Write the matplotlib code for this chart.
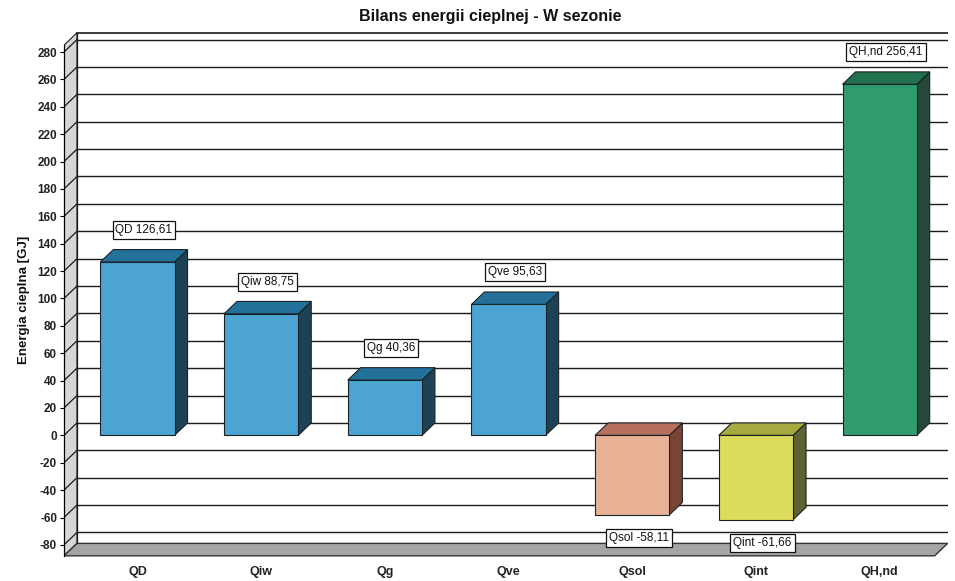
import matplotlib
matplotlib.use("Agg")
from matplotlib import pyplot as plt
from matplotlib.patches import Polygon

plt.rcParams['font.family'] = ['Liberation Sans', 'DejaVu Sans']
plt.rcParams['axes.unicode_minus'] = False

# Dane bilansu (GJ)
categories = ["QD", "Qiw", "Qg", "Qve", "Qsol", "Qint", "QH,nd"]
values = [126.61, 88.75, 40.36, 95.63, -58.11, -61.66, 256.41]
y_ticks = list(range(-80, 281, 20))

# kolory: przod, gora, bok
face_colors = ["#4ba4d2", "#4ba4d2", "#4ba4d2", "#4ba4d2", "#e9b196", "#dcdc5c", "#2f9b6e"]
top_colors = ["#23709a", "#23709a", "#23709a", "#23709a", "#b7705c", "#a7aa3e", "#21714f"]
side_colors = ["#1d4256", "#1d4256", "#1d4256", "#1d4256", "#7a4434", "#5f6333", "#26473a"]

# geometria wykresu "3D"
x0, x1 = -0.594, 6.445     # przednia krawedz osi X
floor_v, wall_top = -88, 285
ddx, ddy = 0.105, 9.1     # glebokosc (przesuniecie tylnej sciany)
bar_w = 0.6

fig = plt.figure(figsize=(9.55, 5.81), dpi=100)
ax = fig.add_axes([0.0670, 0.0386, 0.9253, 0.9095])
ax.set_xlim(x0, x1 + ddx)
ax.set_ylim(-90, 296)

for s in ["top", "right", "bottom"]:
    ax.spines[s].set_visible(False)
ax.spines["left"].set_bounds(floor_v, wall_top)
ax.spines["left"].set_linewidth(0.9)
ax.spines["left"].set_zorder(6)

ax.set_yticks(y_ticks)
ax.tick_params(axis="y", direction="out", length=3, width=0.8, pad=2, labelsize=8.5)
for lab in ax.get_yticklabels():
    lab.set_fontweight("bold")
    lab.set_color("#222222")
ax.set_xticks(range(len(categories)))
ax.set_xticklabels(categories, fontsize=9, fontweight="bold", color="#222222")
ax.tick_params(axis="x", length=0, pad=5)

# lewa sciana
ax.add_patch(Polygon([(x0, floor_v), (x0, wall_top), (x0 + ddx, wall_top + ddy),
                      (x0 + ddx, floor_v + ddy)], closed=True,
                     facecolor="#d6d6d6", edgecolor="#222222", lw=0.8, zorder=1))
# podloga
ax.add_patch(Polygon([(x0, floor_v), (x1, floor_v), (x1 + ddx, floor_v + ddy),
                      (x0 + ddx, floor_v + ddy)], closed=True,
                     facecolor="#a4a4a4", edgecolor="#333333", lw=1.0, zorder=1))

# linie siatki na tylnej i bocznej scianie
for t in y_ticks:
    ax.plot([x0 + ddx, x1 + ddx], [t + ddy, t + ddy], color="#1a1a1a", lw=1.0, zorder=2)
    ax.plot([x0, x0 + ddx], [t, t + ddy], color="#1a1a1a", lw=0.9, zorder=2)
ax.plot([x0 + ddx, x1 + ddx], [wall_top + ddy, wall_top + ddy], color="#1a1a1a", lw=1.2, zorder=2)
ax.plot([x0 + ddx, x0 + ddx], [floor_v + ddy, wall_top + ddy], color="#1a1a1a", lw=0.9, zorder=2)

# slupki
for i, (name, v) in enumerate(zip(categories, values)):
    left, right = i - bar_w / 2, i + bar_w / 2
    lo, hi = min(0, v), max(0, v)
    ax.add_patch(Polygon([(right, lo), (right, hi), (right + ddx, hi + ddy), (right + ddx, lo + ddy)],
                         closed=True, facecolor=side_colors[i], edgecolor="#1b2226", lw=0.8, zorder=3))
    ax.add_patch(Polygon([(left, hi), (right, hi), (right + ddx, hi + ddy), (left + ddx, hi + ddy)],
                         closed=True, facecolor=top_colors[i], edgecolor="#1b2226", lw=0.8, zorder=3))
    ax.add_patch(Polygon([(left, lo), (right, lo), (right, hi), (left, hi)],
                         closed=True, facecolor=face_colors[i], edgecolor="#1b2226", lw=0.8, zorder=4))

    txt = f"{name} {v:.2f}".replace(".", ",")
    ly = v + ddy + 14.5 if v >= 0 else v - 17
    ax.text(i + ddx / 2, ly, txt, ha="center", va="center", fontsize=8.5, color="#111111", zorder=7,
            bbox=dict(boxstyle="square,pad=0.25", facecolor="white", edgecolor="#111111", lw=0.9))

fig.text(490 / 955, 1 - 17 / 581, "Bilans energii cieplnej - W sezonie", ha="center", va="center",
         fontsize=11.5, fontweight="bold", color="#111111")
fig.text(24 / 955, 1 - 300 / 581, "Energia cieplna [GJ]", ha="center", va="center", rotation=90,
         fontsize=9.5, fontweight="bold", color="#111111")

fig.savefig("out.png", dpi=100)
